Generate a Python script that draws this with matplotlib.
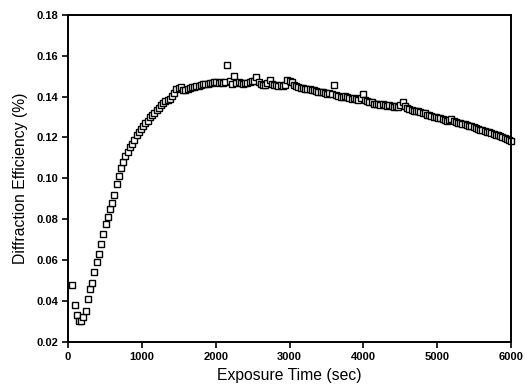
import numpy as np
import matplotlib.pyplot as plt

# diffraction efficiency (%), one reading every 30 s from t = 60 s
t_start, t_step = 60, 30
efficiency = [
    0.048, 0.038, 0.033, 0.030, 0.030, 0.032, 0.035, 0.041, 0.046, 0.049,
    0.054, 0.059, 0.063, 0.068, 0.073, 0.0775, 0.081, 0.085, 0.088, 0.092,
    0.097, 0.101, 0.105, 0.108, 0.111, 0.113, 0.1155, 0.117, 0.119, 0.121,
    0.1225, 0.124, 0.1255, 0.127, 0.128, 0.130, 0.131, 0.132, 0.1335, 0.1345,
    0.136, 0.137, 0.1378, 0.1385, 0.139, 0.1405, 0.142, 0.1435, 0.144, 0.1445,
    0.143, 0.1432, 0.1438, 0.144, 0.1445, 0.1448, 0.145, 0.1452, 0.1455, 0.146,
    0.146, 0.1462, 0.1465, 0.1468, 0.147, 0.147, 0.1468, 0.147, 0.1465, 0.147,
    0.1555, 0.1475, 0.1462, 0.150, 0.1468, 0.147, 0.1465, 0.1462, 0.1465, 0.1466,
    0.147, 0.1478, 0.1475, 0.1495, 0.1472, 0.1462, 0.1458, 0.1455, 0.1465, 0.1482,
    0.1462, 0.1455, 0.1455, 0.1452, 0.1456, 0.1452, 0.1455, 0.1482, 0.1476, 0.147,
    0.1458, 0.145, 0.1445, 0.1441, 0.144, 0.1438, 0.1437, 0.1435, 0.1433, 0.1432,
    0.1428, 0.1425, 0.1422, 0.1424, 0.142, 0.1415, 0.1418, 0.1412, 0.1457, 0.1408,
    0.1405, 0.140, 0.1398, 0.1402, 0.1398, 0.1393, 0.139, 0.1392, 0.1388, 0.1384,
    0.1395, 0.1412, 0.1385, 0.1378, 0.1375, 0.1372, 0.1365, 0.1365, 0.1362, 0.136,
    0.1364, 0.1358, 0.1355, 0.136, 0.1352, 0.135, 0.1352, 0.1348, 0.136, 0.1376,
    0.1355, 0.1345, 0.134, 0.1335, 0.1332, 0.133, 0.1328, 0.1325, 0.132, 0.1318,
    0.1312, 0.131, 0.1305, 0.1302, 0.1298, 0.1294, 0.1295, 0.129, 0.1288, 0.1282,
    0.1285, 0.1292, 0.128, 0.1275, 0.1272, 0.127, 0.1266, 0.1264, 0.1262, 0.1258,
    0.1256, 0.125, 0.1246, 0.1243, 0.1238, 0.1236, 0.1232, 0.1228, 0.1225, 0.122,
    0.1216, 0.1212, 0.121, 0.1205, 0.1202, 0.1198, 0.1193, 0.119, 0.1185,
]
exposure_time = t_start + t_step * np.arange(len(efficiency))

x_ticks = [0, 1000, 2000, 3000, 4000, 5000, 6000]
y_ticks = [0.02, 0.04, 0.06, 0.08, 0.10, 0.12, 0.14, 0.16, 0.18]

plt.rcParams['font.family'] = ['Liberation Sans', 'DejaVu Sans']

fig = plt.figure(figsize=(5.26, 3.92), dpi=100)
ax = fig.add_axes([0.129, 0.128, 0.843, 0.834])

ax.plot(exposure_time, efficiency, linestyle='none', marker='s',
        markersize=4.8, markerfacecolor='white', markeredgecolor='black',
        markeredgewidth=1.0, clip_on=False)

ax.set_xlim(0, 6000)
ax.set_ylim(0.02, 0.18)
ax.set_xticks(x_ticks)
ax.set_yticks(y_ticks)
ax.set_xticklabels([str(v) for v in x_ticks], fontweight='bold', fontsize=8)
ax.set_yticklabels([f"{v:.2f}" for v in y_ticks], fontweight='bold', fontsize=8)
ax.tick_params(direction='out', length=4, width=1.2, pad=3)

for s in ax.spines.values():
    s.set_linewidth(1.4)

ax.set_xlabel('Exposure Time (sec)', fontsize=11.3, labelpad=5)
ax.set_ylabel('Diffraction Efficiency (%)', fontsize=11.3, labelpad=6)

fig.savefig('out.png', dpi=100)
